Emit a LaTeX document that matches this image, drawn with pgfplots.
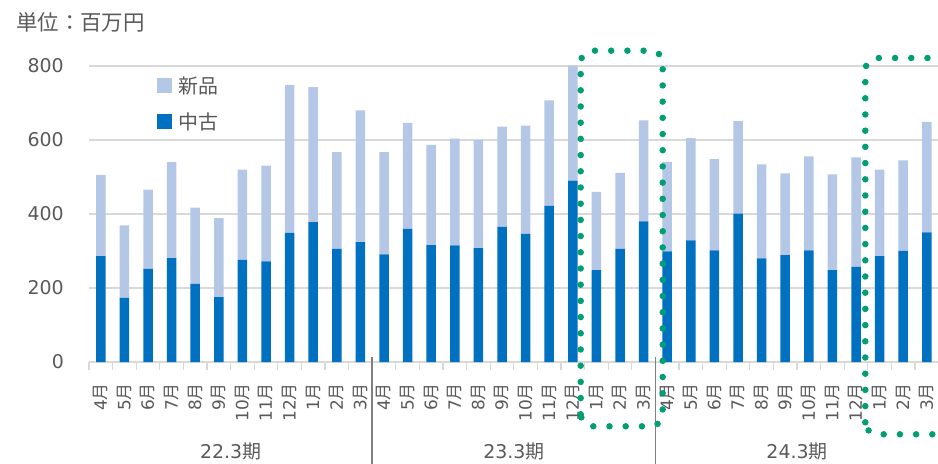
\documentclass[border=0pt]{standalone}
\usepackage{pgfplots}
\usepackage{pgfplotstable}
\pgfplotsset{compat=1.18}
\usepackage{fontspec}
\setmainfont{DejaVu Sans}
\newfontfamily\cjk{Noto Sans CJK JP}
\definecolor{darkblue}{RGB}{0,112,192}
\definecolor{lightblue}{RGB}{180,199,231}
\definecolor{gridgray}{RGB}{217,217,217}
\definecolor{textgray}{RGB}{89,89,89}
\definecolor{sepgray}{RGB}{128,128,128}
\definecolor{dotgreen}{RGB}{0,158,115}
\newcommand{\M}[1]{#1{\cjk 月}}

\pgfplotstableread{
idx used new
0 286 220
1 173 196
2 252 214
3 281 259
4 211 206
5 175 214
6 276 244
7 272 259
8 349 400
9 378 365
10 306 261
11 324 356
12 291 276
13 360 286
14 316 271
15 315 289
16 308 292
17 365 271
18 346 293
19 422 285
20 490 311
21 248 212
22 306 205
23 380 273
24 299 242
25 329 276
26 302 246
27 401 250
28 280 254
29 289 221
30 302 254
31 248 259
32 257 296
33 286 234
34 300 245
35 350 299
}\datatable

\begin{document}
\begin{tikzpicture}
\path[use as bounding box] (0,0) rectangle (938bp,464bp);
\node[anchor=west, inner sep=0pt, font=\cjk\fontsize{21.5}{21.5}\selectfont, text=textgray] at (16bp,442bp) {単位：百万円};
\begin{axis}[
  at={(89bp,102bp)}, anchor=south west, scale only axis,
  width=849.6bp, height=296bp,
  xmin=-0.5, xmax=35.5, ymin=0, ymax=800,
  clip=false,
  ybar stacked, bar width=9.5bp,
  axis x line*=bottom, axis y line*=left,
  x axis line style={-, draw=gridgray, line width=1.5bp},
  y axis line style={draw=none},
  tick align=outside, major tick length=0pt, minor tick length=8bp,
  minor tick style={draw=gridgray, line width=1.2bp},
  xtick={0,...,35},
  minor xtick={-0.5,0.5,...,35.5},
  xticklabels={\M{4},\M{5},\M{6},\M{7},\M{8},\M{9},\M{10},\M{11},\M{12},\M{1},\M{2},\M{3},
               \M{4},\M{5},\M{6},\M{7},\M{8},\M{9},\M{10},\M{11},\M{12},\M{1},\M{2},\M{3},
               \M{4},\M{5},\M{6},\M{7},\M{8},\M{9},\M{10},\M{11},\M{12},\M{1},\M{2},\M{3}},
  ytick={0,200,400,600,800},
  ymajorgrids, major grid style={draw=gridgray, line width=1.5bp},
  /pgf/number format/assume math mode=true,
  yticklabel style={font=\fontsize{19}{19}\selectfont, text=textgray, inner sep=0pt, xshift=-25bp, anchor=east},
  xticklabel style={font=\fontsize{17}{17}\selectfont, text=textgray, inner sep=0pt, yshift=-21bp, rotate=90, anchor=east},
  legend style={at={(0.08,0.965)}, anchor=north west, draw=none, fill=none, inner sep=0pt,
    row sep=18bp, column sep=6bp, font=\cjk\fontsize{20}{20}\selectfont, text=textgray,
    nodes={inner sep=0pt}},
  legend cell align=left,
  reverse legend,
]
\addplot[fill=darkblue, draw=none,
  legend image code/.code={\fill[darkblue] (0bp,-7.5bp) rectangle (15bp,7.5bp);}]
  table[x=idx, y=used] {\datatable};
\addlegendentry{中古}
\addplot[fill=lightblue, draw=none,
  legend image code/.code={\fill[lightblue] (0bp,-7.5bp) rectangle (15bp,7.5bp);}]
  table[x=idx, y=new] {\datatable};
\addlegendentry{新品}

\draw[sepgray, line width=1.5bp] ([yshift=5bp]axis cs:11.5,0) -- ([yshift=-110bp]axis cs:11.5,0);
\draw[sepgray, line width=1.5bp] ([yshift=5bp]axis cs:23.5,0) -- ([yshift=-110bp]axis cs:23.5,0);
\node[font=\fontsize{19}{19}\selectfont, text=textgray] at ([yshift=-89.7bp]axis cs:5.5,0) {22.3{\cjk 期}};
\node[font=\fontsize{19}{19}\selectfont, text=textgray] at ([yshift=-89.7bp]axis cs:17.5,0) {23.3{\cjk 期}};
\node[font=\fontsize{19}{19}\selectfont, text=textgray] at ([yshift=-89.7bp]axis cs:29.5,0) {24.3{\cjk 期}};
\end{axis}
\draw[dotgreen, line width=6.5bp, line cap=round, dash pattern=on 0pt off 16.2bp, rounded corners=12bp]
  (580.7bp,37.7bp) rectangle (662.7bp,413.3bp);
\draw[dotgreen, line width=6.5bp, line cap=round, dash pattern=on 0pt off 16.2bp, rounded corners=12bp]
  (865.3bp,29.7bp) rectangle (990bp,406bp);
\end{tikzpicture}
\end{document}
